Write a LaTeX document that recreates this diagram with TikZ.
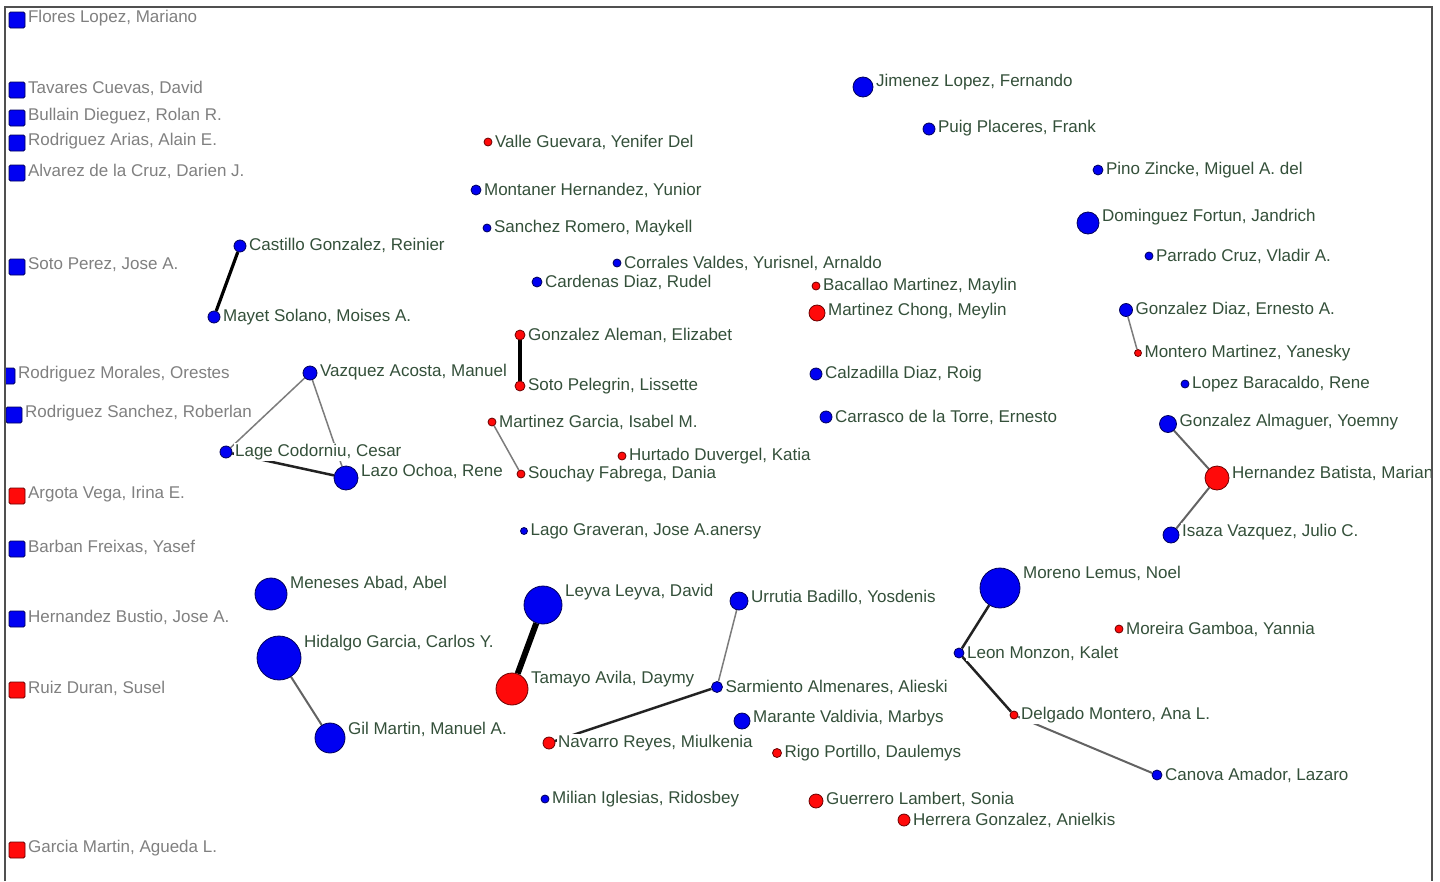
\documentclass[tikz,border=0pt]{standalone}
\usepackage{fontspec}
\setmainfont{Liberation Sans}
\definecolor{NodeBlue}{HTML}{0000F2}
\definecolor{NodeNavy}{HTML}{00005A}
\definecolor{NodeRed}{HTML}{FF0A0A}
\definecolor{NodeMaroon}{HTML}{6A0000}
\definecolor{LabelGreen}{HTML}{34503A}
\definecolor{LabelGray}{HTML}{808080}
\definecolor{TieGray}{HTML}{7C7C7C}
\definecolor{TieDark}{HTML}{222222}
\definecolor{FrameGray}{HTML}{505050}
\pgfdeclarelayer{background}
\pgfsetlayers{background,main}

\tikzset{
  actorB/.style={circle, draw=NodeNavy, fill=NodeBlue, line width=0.8pt, inner sep=0pt},
  actorR/.style={circle, draw=NodeMaroon, fill=NodeRed, line width=0.8pt, inner sep=0pt},
  loneB/.style={rectangle, rounded corners=1.5pt, draw=NodeNavy, fill=NodeBlue, line width=0.8pt, inner sep=0pt, minimum size=16pt},
  loneR/.style={rectangle, rounded corners=1.5pt, draw=NodeMaroon, fill=NodeRed, line width=0.8pt, inner sep=0pt, minimum size=16pt},
  lbl/.style={fill=white, inner sep=1pt, text=LabelGreen},
  isolbl/.style={lbl, text=LabelGray, yshift=2pt},
  tieweak/.style={TieGray, line width=1.5pt},
  tiemid/.style={TieGray!80!black, line width=2pt},
  tiestrong/.style={TieDark, line width=2.5pt},
  tieheavy/.style={black, line width=3.2pt},
  tiemax/.style={black, line width=6pt}
}

\begin{document}
\begin{tikzpicture}[x=1pt, y=-1pt, font=\fontsize{17}{20}\selectfont, label distance=1.5pt]
  \useasboundingbox (0,0) rectangle (1440,881);
  \begin{pgfonlayer}{background}
    \fill[white] (0,0) rectangle (1440,881);
  \end{pgfonlayer}

  \begin{scope}
  \clip (5,7) rectangle (1432,890);
  % isolated members, left column
  \node[loneB, label={[isolbl]east:Flores Lopez, Mariano}] (flores) at (17,20) {};
  \node[loneB, label={[isolbl]east:Tavares Cuevas, David}] (tavares) at (17,90) {};
  \node[loneB, label={[isolbl]east:Bullain Dieguez, Rolan R.}] (bullain) at (17,118) {};
  \node[loneB, label={[isolbl]east:Rodriguez Arias, Alain E.}] (rarias) at (17,143) {};
  \node[loneB, label={[isolbl]east:Alvarez de la Cruz, Darien J.}] (alvarez) at (17,173) {};
  \node[loneB, label={[isolbl]east:Soto Perez, Jose A.}] (sotoperez) at (17,267) {};
  \node[loneB, label={[isolbl]east:Rodriguez Morales, Orestes}] (rmorales) at (7,376) {};
  \node[loneB, label={[isolbl]east:Rodriguez Sanchez, Roberlan}] (rsanchez) at (14,415) {};
  \node[loneR, label={[isolbl]east:Argota Vega, Irina E.}] (argota) at (17,496) {};
  \node[loneB, label={[isolbl]east:Barban Freixas, Yasef}] (barban) at (17,549) {};
  \node[loneB, label={[isolbl]east:Hernandez Bustio, Jose A.}] (hbustio) at (17,619) {};
  \node[loneR, label={[isolbl]east:Ruiz Duran, Susel}] (ruiz) at (17,690) {};
  \node[loneR, label={[isolbl]east:Garcia Martin, Agueda L.}] (gmartin) at (17,850) {};

  % upper part
  \node[actorB, minimum size=20pt, label={[lbl, yshift=5pt]east:Jimenez Lopez, Fernando}] (jimenez) at (863,87) {};
  \node[actorB, minimum size=12pt, label={[lbl, yshift=1pt]east:Puig Placeres, Frank}] (puig) at (929,129) {};
  \node[actorR, minimum size=8pt, label={[lbl]east:Valle Guevara, Yenifer Del}] (valle) at (488,142) {};
  \node[actorB, minimum size=10pt, label={[lbl]east:Montaner Hernandez, Yunior}] (montaner) at (476,190) {};
  \node[actorB, minimum size=8pt, label={[lbl]east:Sanchez Romero, Maykell}] (sanchez) at (487,228) {};
  \node[actorB, minimum size=10pt, label={[lbl]east:Pino Zincke, Miguel A. del}] (pino) at (1098,170) {};
  \node[actorB, minimum size=22pt, label={[lbl, yshift=6pt]east:Dominguez Fortun, Jandrich}] (dominguez) at (1088,223) {};
  \node[actorB, minimum size=8pt, label={[lbl]east:Parrado Cruz, Vladir A.}] (parrado) at (1149,256) {};
  \node[actorB, minimum size=12pt, label={[lbl, yshift=1pt]east:Castillo Gonzalez, Reinier}] (castillo) at (240,246) {};
  \node[actorB, minimum size=12pt, label={[lbl]east:Mayet Solano, Moises A.}] (mayet) at (214,317) {};
  \node[actorB, minimum size=8pt, label={[lbl]east:Corrales Valdes, Yurisnel, Arnaldo}] (corrales) at (617,263) {};
  \node[actorB, minimum size=10pt, label={[lbl]east:Cardenas Diaz, Rudel}] (cardenas) at (537,282) {};
  \node[actorR, minimum size=8pt, label={[lbl]east:Bacallao Martinez, Maylin}] (bacallao) at (816,286) {};
  \node[actorR, minimum size=16pt, label={[lbl, yshift=2pt]east:Martinez Chong, Meylin}] (mchong) at (817,313) {};
  \node[actorB, minimum size=13pt, label={[lbl, yshift=1pt]east:Gonzalez Diaz, Ernesto A.}] (gdiaz) at (1126,310) {};
  \node[actorR, minimum size=7pt, label={[lbl]east:Montero Martinez, Yanesky}] (montero) at (1138,353) {};
  \node[actorR, minimum size=10pt, label={[lbl]east:Gonzalez Aleman, Elizabet}] (galeman) at (520,335) {};
  \node[actorR, minimum size=10pt, label={[lbl]east:Soto Pelegrin, Lissette}] (spelegrin) at (520,386) {};
  \node[actorB, minimum size=14pt, label={[lbl, yshift=1pt]east:Vazquez Acosta, Manuel}] (vazquez) at (310,373) {};
  \node[actorB, minimum size=12pt, label={[lbl]east:Calzadilla Diaz, Roig}] (calzadilla) at (816,374) {};
  \node[actorB, minimum size=8pt, label={[lbl]east:Lopez Baracaldo, Rene}] (lopezb) at (1185,384) {};
  \node[actorB, minimum size=12pt, label={[lbl]east:Carrasco de la Torre, Ernesto}] (carrasco) at (826,417) {};
  \node[actorB, minimum size=17pt, label={[lbl, yshift=2pt]east:Gonzalez Almaguer, Yoemny}] (galmaguer) at (1168,424) {};

  % middle part
  \node[actorR, minimum size=8pt, label={[lbl]east:Martinez Garcia, Isabel M.}] (mgarcia) at (492,422) {};
  \node[actorB, minimum size=12pt, label={[lbl]east:Lage Codorniu, Cesar}] (lage) at (226,452) {};
  \node[actorR, minimum size=8pt, label={[lbl]east:Hurtado Duvergel, Katia}] (hurtado) at (622,456) {};
  \node[actorB, minimum size=24pt, label={[lbl, yshift=7pt]east:Lazo Ochoa, Rene}] (lazo) at (346,478) {};
  \node[actorR, minimum size=8pt, label={[lbl]east:Souchay Fabrega, Dania}] (souchay) at (521,474) {};
  \node[actorR, minimum size=24pt, label={[lbl, yshift=5pt]east:Hernandez Batista, Marian}] (hbatista) at (1217,478) {};
  \node[actorB, minimum size=16pt, label={[lbl, yshift=3pt]east:Isaza Vazquez, Julio C.}] (isaza) at (1171,535) {};
  \node[actorB, minimum size=7pt, label={[lbl]east:Lago Graveran, Jose A.anersy}] (lago) at (524,531) {};

  % lower part
  \node[actorB, minimum size=32pt, label={[lbl, yshift=11pt]east:Meneses Abad, Abel}] (meneses) at (271,594) {};
  \node[actorB, minimum size=38pt, label={[lbl, yshift=13pt]east:Leyva Leyva, David}] (leyva) at (543,605) {};
  \node[actorB, minimum size=18pt, label={[lbl, yshift=4pt]east:Urrutia Badillo, Yosdenis}] (urrutia) at (739,601) {};
  \node[actorB, minimum size=40pt, label={[lbl, yshift=15pt]east:Moreno Lemus, Noel}] (moreno) at (1000,588) {};
  \node[actorR, minimum size=8pt, label={[lbl]east:Moreira Gamboa, Yannia}] (moreira) at (1119,629) {};
  \node[actorB, minimum size=44pt, label={[lbl, yshift=15pt]east:Hidalgo Garcia, Carlos Y.}] (hidalgo) at (279,658) {};
  \node[actorB, minimum size=10pt, label={[lbl]east:Leon Monzon, Kalet}] (leon) at (959,653) {};
  \node[actorR, minimum size=32pt, label={[lbl, yshift=10pt]east:Tamayo Avila, Daymy}] (tamayo) at (512,689) {};
  \node[actorB, minimum size=11pt, label={[lbl]east:Sarmiento Almenares, Alieski}] (sarmiento) at (717,687) {};
  \node[actorR, minimum size=8pt, label={[lbl]east:Delgado Montero, Ana L.}] (delgado) at (1014,715) {};
  \node[actorB, minimum size=16pt, label={[lbl, yshift=3pt]east:Marante Valdivia, Marbys}] (marante) at (742,721) {};
  \node[actorB, minimum size=30pt, label={[lbl, yshift=9pt]east:Gil Martin, Manuel A.}] (gil) at (330,738) {};
  \node[actorR, minimum size=12pt, label={[lbl]east:Navarro Reyes, Miulkenia}] (navarro) at (549,743) {};
  \node[actorR, minimum size=9pt, label={[lbl]east:Rigo Portillo, Daulemys}] (rigo) at (777,753) {};
  \node[actorB, minimum size=10pt, label={[lbl]east:Canova Amador, Lazaro}] (canova) at (1157,775) {};
  \node[actorB, minimum size=8pt, label={[lbl]east:Milian Iglesias, Ridosbey}] (milian) at (545,799) {};
  \node[actorR, minimum size=14pt, label={[lbl, yshift=2pt]east:Guerrero Lambert, Sonia}] (guerrero) at (816,801) {};
  \node[actorR, minimum size=12pt, label={[lbl]east:Herrera Gonzalez, Anielkis}] (herrera) at (904,820) {};
  \end{scope}

  % ties, behind the labels
  \begin{pgfonlayer}{background}
    \draw[tieheavy] (castillo) -- (mayet);
    \draw[tieweak] (vazquez) -- (lage);
    \draw[tieweak] (vazquez) -- (lazo);
    \draw[tiestrong] (lage) -- (lazo);
    \draw[tieheavy] (galeman) -- (spelegrin);
    \draw[tieweak] (mgarcia) -- (souchay);
    \draw[tiemax] (leyva) -- (tamayo);
    \draw[tiemid] (hidalgo) -- (gil);
    \draw[tieweak] (urrutia) -- (sarmiento);
    \draw[tiestrong] (sarmiento) -- (navarro);
    \draw[tieweak] (gdiaz) -- (montero);
    \draw[tiemid] (galmaguer) -- (hbatista);
    \draw[tiemid] (hbatista) -- (isaza);
    \draw[tiestrong] (moreno) -- (leon);
    \draw[tiestrong] (leon) -- (delgado);
    \draw[tiemid] (delgado) -- (canova);
  \end{pgfonlayer}

  \draw[FrameGray, line width=1.5pt] (5,881) -- (5,7) -- (1432,7) -- (1432,881);
\end{tikzpicture}
\end{document}
